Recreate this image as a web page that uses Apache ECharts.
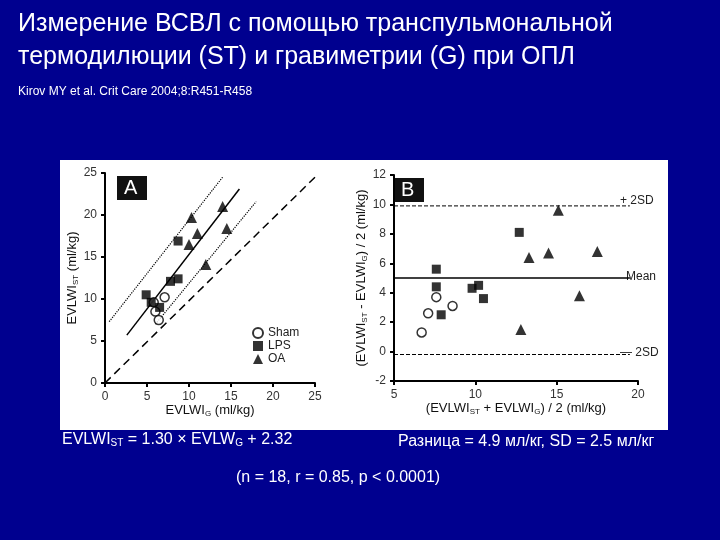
<!DOCTYPE html><html><head><meta charset="utf-8">
<script src="https://cdn.jsdelivr.net/npm/echarts@6/dist/echarts.min.js"></script>
<style>html,body{margin:0;background:#00008f}#c{width:720px;height:540px}</style></head><body><div id="c"></div>
<script>
const shamA=[[5.8,9.6],[6.0,8.5],[6.4,7.5],[7.1,10.2]];
const lpsA=[[4.9,10.5],[5.5,9.6],[6.5,9.0],[7.8,12.1],[8.7,12.4],[8.7,16.9]];
const oaA=[[10.3,19.7],[11.0,17.8],[10.0,16.5],[14.0,21.0],[14.5,18.4],[12.0,14.1]];
const regLine=[[2.6,5.7],[16,23.1]];
const upperDotted=[[0.5,7.3],[14,24.5]];
const lowerDotted=[[6,7],[18,21.6]];
const identity=[[0,0],[25,24.5]];
const shamB=[[6.7,1.3],[7.1,2.6],[7.6,3.7],[8.6,3.1]];
const lpsB=[[7.6,5.6],[7.6,4.4],[7.9,2.5],[9.8,4.3],[10.2,4.5],[10.5,3.6],[12.7,8.1]];
const oaB=[[12.8,1.5],[13.3,6.4],[14.5,6.7],[15.1,9.6],[16.4,3.8],[17.5,6.8]];
const meanB=5.0, plus2SD=9.9, minus2SD=-0.2;
const f='Liberation Sans, Arial, sans-serif';
const ax={axisLine:{onZero:false,lineStyle:{color:'#000',width:2}},axisTick:{lineStyle:{color:'#000',width:2},length:4},splitLine:{show:false},axisLabel:{color:'#333',fontSize:12,fontFamily:f}};
const rich={s:{fontSize:8,color:'#111',padding:[6,0,0,0]}};
const nts={fontSize:13,color:'#111',fontFamily:f,rich:rich};
const c=echarts.init(document.getElementById('c'));
const ln=(d,type,w,xi)=>({type:'line',data:d,xAxisIndex:xi,yAxisIndex:xi,symbol:'none',silent:true,lineStyle:{color:'#000',type:type,width:w},z:1});
const sc=(name,d,sym,xi,filled)=>({type:'scatter',name:name,data:d,xAxisIndex:xi,yAxisIndex:xi,symbol:sym,symbolSize:sym==='triangle'?11:9,itemStyle:filled?{color:'#000'}:{color:'#fff',borderColor:'#000',borderWidth:1.5},z:3});
c.setOption({
 backgroundColor:'#00008f',
 graphic:[
  {type:'rect',shape:{x:60,y:160,width:608,height:270},style:{fill:'#fff'},z:-10},
  {type:'text',left:18,top:8,style:{text:'Измерение ВСВЛ с помощью транспульмональной\nтермодилюции (ST) и гравиметрии (G) при ОПЛ',fill:'#fff',font:'25px '+f,lineHeight:33}},
  {type:'text',left:18,top:86,style:{text:'Kirov MY et al. Crit Care 2004;8:R451-R458',fill:'#fff',font:'12px '+f}},
  {type:'rect',shape:{x:117,y:176,width:30,height:24},style:{fill:'#111'}},
  {type:'text',x:124,y:178,style:{text:'A',fill:'#fff',font:'20px '+f}},
  {type:'rect',shape:{x:394,y:178,width:30,height:24},style:{fill:'#111'}},
  {type:'text',x:401,y:180,style:{text:'B',fill:'#fff',font:'20px '+f}},
  {type:'text',x:620,y:195,style:{text:'+ 2SD',fill:'#222',font:'12px '+f}},
  {type:'text',x:626,y:271,style:{text:'Mean',fill:'#222',font:'12px '+f}},
  {type:'text',x:620,y:347,style:{text:'— 2SD',fill:'#222',font:'12px '+f}},
  {type:'text',x:62,y:432,style:{text:'EVLWI{s|ST} = 1.30 × EVLW{s|G} + 2.32',fill:'#fff',font:'16px '+f,rich:{s:{fontSize:10,fill:'#fff',padding:[6,0,0,0]}}}},
  {type:'text',x:398,y:434,style:{text:'Разница = 4.9 мл/кг, SD = 2.5 мл/кг',fill:'#fff',font:'16px '+f}},
  {type:'text',x:236,y:470,style:{text:'(n = 18, r = 0.85, p < 0.0001)',fill:'#fff',font:'16px '+f}}
 ],
 legend:{left:247,top:322,orient:'vertical',itemGap:1,itemWidth:10,itemHeight:10,textStyle:{fontSize:12,color:'#222',fontFamily:f},data:['Sham','LPS','OA']},
 grid:[{left:105,top:173,width:210,height:210},{left:394,top:175,width:244,height:206}],
 xAxis:[
  Object.assign({gridIndex:0,min:0,max:25,interval:5,name:'EVLWI{s|G} (ml/kg)',nameLocation:'middle',nameGap:20,nameTextStyle:nts},ax),
  Object.assign({gridIndex:1,min:5,max:20,interval:5,name:'(EVLWI{s|ST} + EVLWI{s|G}) / 2 (ml/kg)',nameLocation:'middle',nameGap:20,nameTextStyle:nts},ax)],
 yAxis:[
  Object.assign({gridIndex:0,min:0,max:25,interval:5,name:'EVLWI{s|ST} (ml/kg)',nameLocation:'middle',nameGap:22,nameTextStyle:nts},ax),
  Object.assign({gridIndex:1,min:-2,max:12,interval:2,name:'(EVLWI{s|ST} - EVLWI{s|G}) / 2 (ml/kg)',nameLocation:'middle',nameGap:22,nameTextStyle:nts},ax)],
 series:[
  ln(regLine,'solid',1.5,0),ln(upperDotted,'dotted',1.2,0),ln(lowerDotted,'dotted',1.2,0),ln(identity,[8,5],1.5,0),
  sc('Sham',shamA,'circle',0,false),sc('LPS',lpsA,'rect',0,true),sc('OA',oaA,'triangle',0,true),
  ln([[5,meanB],[19.5,meanB]],'solid',1.5,1),ln([[5,plus2SD],[19.5,plus2SD]],'dashed',1,1),ln([[5,minus2SD],[19.5,minus2SD]],'dashed',1,1),
  sc('Sham',shamB,'circle',1,false),sc('LPS',lpsB,'rect',1,true),sc('OA',oaB,'triangle',1,true)
 ]
});
</script></body></html>
